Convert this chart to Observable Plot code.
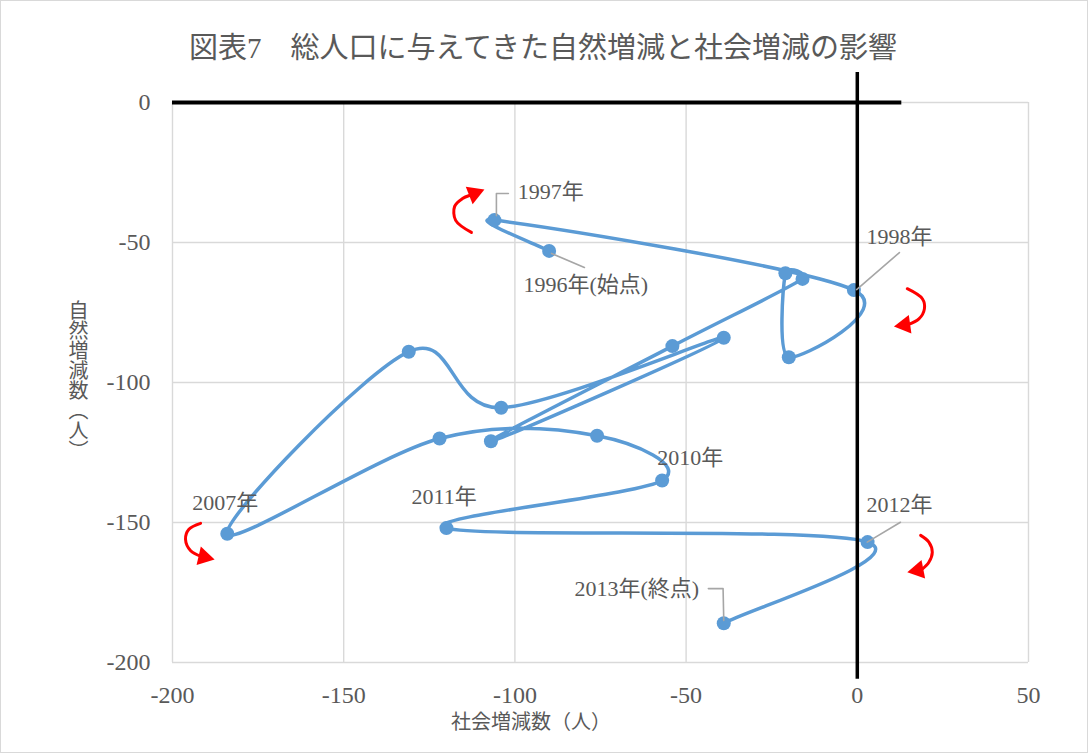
<!DOCTYPE html>
<html>
<head>
<meta charset="utf-8">
<script src="https://cdn.jsdelivr.net/npm/d3@7"></script>
<script src="https://cdn.jsdelivr.net/npm/@observablehq/plot@0.6"></script>
<style>
  body { margin: 0; background: #fff; }
  #wrap { position: relative; width: 1088px; height: 753px; overflow: hidden; background: #fff; }
  #frame { position: absolute; left: 0; top: 0; width: 1088px; height: 753px; box-sizing: border-box; border: 1px solid #d9d9d9; pointer-events: none; }
  .t { position: absolute; color: #595959; font-family: 'Liberation Serif', 'Noto Sans CJK JP', serif; white-space: nowrap; }
  #title { left: 0; width: 1086px; top: 30px; text-align: center; font-size: 29px; line-height: 36px; }
  #xlabel { left: 331px; width: 400px; top: 710px; text-align: center; font-size: 20px; line-height: 24px; }
  #ylabel { left: 65px; top: 300px; width: 24px; height: 160px; font-size: 20px; line-height: 24px; writing-mode: vertical-rl; text-align: center; }
</style>
</head>
<body>
<div id="wrap">
  <div id="chart"></div>
  <div class="t" id="title">図表7　総人口に与えてきた自然増減と社会増減の影響</div>
  <div class="t" id="xlabel">社会増減数（人）</div>
  <div class="t" id="ylabel">自然増減数（人）</div>
  <div id="frame"></div>
</div>
<script>
// ---- data ----
const years   = [1996, 1997, 1998, 1999, 2000, 2001, 2002, 2003, 2004, 2005, 2006, 2007, 2008, 2009, 2010, 2011, 2012, 2013];
const social  = [-90, -106, -1, -20, -21, -16, -54, -107, -39, -104, -131, -184, -122, -76, -57, -120, 3, -39];
const natural = [-53, -42, -67, -91, -61, -63, -87, -121, -84, -109, -89, -154, -120, -119, -135, -152, -157, -186];

const xTicks = [-200, -150, -100, -50, 0, 50];
const yTicks = [0, -50, -100, -150, -200];

// black reference lines (axis series)
const zeroHX = [-200, 13];
const zeroVY = [10.7, -206];

// data labels
const labelText = ["1997年", "1996年(始点)", "1998年", "2010年", "2011年", "2007年", "2012年", "2013年(終点)"];
const labelX = [-99.2, -97.5, 2.7, -58.4, -130.2, -194.2, 2.7, -82.6];
const labelY = [-32.1, -65, -47.9, -126.8, -140.7, -142.9, -143.9, -173.6];

// leader lines
const leaderId = [0, 0, 0, 1, 1, 2, 2, 3, 3, 4, 4, 4];
const leaderX = [-105.4, -105.4, -101.9, -89.3, -79.7, -0.2, 12.3, 2.9, 12.6, -43.5, -39.2, -39.0];
const leaderY = [-40.4, -32.5, -32.5, -53.9, -58.9, -66.8, -53.6, -157, -149.9, -173.6, -173.6, -185];

// red rotation arrows (arc points)
const arrowId = [0, 0, 0, 0, 0, 1, 1, 1, 1, 1, 2, 2, 2, 2, 2, 3, 3, 3, 3, 3];
const arrowX = [-112.7, -117.3, -117.6, -115.3, -113.3,
                14.6, 19.0, 19.6, 18.0, 14.8,
                -191.8, -195.2, -196.2, -194.7, -191.6,
                18.5, 20.9, 21.9, 20.9, 18.8];
const arrowY = [-46.4, -42.1, -37.1, -34.3, -33.2,
                -66.5, -70.1, -73.7, -77.3, -79.3,
                -150.3, -152.4, -156.0, -160.1, -162.1,
                -154.6, -157.0, -160.6, -164.2, -166.8];
const headBaseX = [-113.3, 14.8, -191.6, 18.8];
const headBaseY = [-33.2, -79.3, -162.1, -166.8];
const headTipX = [-108.9, 10.7, -187.7, 14.6];
const headTipY = [-31.1, -80.0, -163.2, -167.8];

// ---- layout ----
const W = 1088, H = 753, mL = 172, mR = 60, mT = 102, mB = 91;
const kx = (W - mL - mR) / 250, ky = (H - mT - mB) / 200;

const pts = years.map((yr, i) => ({year: yr, x: social[i], y: natural[i]}));
const labels = labelText.map((t, i) => ({text: t, x: labelX[i], y: labelY[i]}));
const leaders = leaderId.map((id, i) => ({id, x: leaderX[i], y: leaderY[i]}));
const arcs = arrowId.map((id, i) => ({id, x: arrowX[i], y: arrowY[i]}));

const headR = 7;
const tipDist = 2 * Math.sqrt(headR * headR * Math.PI / (3 * Math.sqrt(3)));
const heads = headTipX.map((tx, i) => {
  const dxp = (tx - headBaseX[i]) * kx;
  const dyp = -(headTipY[i] - headBaseY[i]) * ky;
  const len = Math.hypot(dxp, dyp);
  const ux = dxp / len, uy = dyp / len;
  const ang = Math.atan2(dyp, dxp) * 180 / Math.PI;
  return {
    x: tx - ux * tipDist / kx,
    y: headTipY[i] + uy * tipDist / ky,
    rotate: ang + 90
  };
});

// Spreadsheet-style smoothed line: cardinal Bezier whose control arms are
// limited to half of the segment length (avoids loops on short segments).
function smoothCurve(context) {
  let p = [];
  return {
    areaStart() {}, areaEnd() {},
    lineStart() { p = []; },
    point(x, y) { p.push([+x, +y]); },
    lineEnd() {
      const n = p.length;
      if (!n) return;
      context.moveTo(p[0][0], p[0][1]);
      if (n === 1) return;
      const T = p.map((_, i) => {
        const a = p[Math.max(0, i - 1)], b = p[Math.min(n - 1, i + 1)];
        return [(b[0] - a[0]) / 6, (b[1] - a[1]) / 6];
      });
      for (let i = 0; i < n - 1; i++) {
        const a = p[i], b = p[i + 1];
        const L = Math.hypot(b[0] - a[0], b[1] - a[1]);
        const t1 = Math.hypot(T[i][0], T[i][1]), t2 = Math.hypot(T[i + 1][0], T[i + 1][1]);
        const s1 = t1 > 0 ? Math.min(1, 0.5 * L / t1) : 1;
        const s2 = t2 > 0 ? Math.min(1, 0.5 * L / t2) : 1;
        context.bezierCurveTo(
          a[0] + T[i][0] * s1, a[1] + T[i][1] * s1,
          b[0] - T[i + 1][0] * s2, b[1] - T[i + 1][1] * s2,
          b[0], b[1]);
      }
    }
  };
}

const blue = "#5b9bd5";
const grey = "#595959";

const chart = Plot.plot({
  width: W, height: H,
  marginLeft: mL, marginRight: mR, marginTop: mT, marginBottom: mB,
  style: {fontFamily: "'Liberation Serif', 'Noto Sans CJK JP', serif", fontSize: "24px", color: grey, background: "transparent"},
  x: {domain: [-200, 50], axis: null},
  y: {domain: [-200, 0], axis: null},
  marks: [
    Plot.gridX(xTicks, {stroke: "#d9d9d9", strokeOpacity: 1, strokeWidth: 1.4}),
    Plot.gridY(yTicks, {stroke: "#d9d9d9", strokeOpacity: 1, strokeWidth: 1.4}),
    Plot.axisX(xTicks, {tickSize: 0, tickPadding: 23, tickFormat: d => String(d), fontSize: 24, fill: grey, label: null}),
    Plot.axisY(yTicks, {tickSize: 0, tickPadding: 22, tickFormat: d => String(d), fontSize: 24, fill: grey, label: null}),
    Plot.line(pts, {x: "x", y: "y", curve: smoothCurve, stroke: blue, strokeWidth: 3.5}),
    Plot.dot(pts, {x: "x", y: "y", r: 7, fill: blue}),
    Plot.ruleY([0], {x1: zeroHX[0], x2: zeroHX[1], stroke: "black", strokeWidth: 4}),
    Plot.ruleX([0], {y1: zeroVY[0], y2: zeroVY[1], stroke: "black", strokeWidth: 3.5}),
    Plot.line(leaders, {x: "x", y: "y", z: "id", stroke: "#a6a6a6", strokeWidth: 1.6}),
    Plot.text(labels, {x: "x", y: "y", text: "text", textAnchor: "start", lineAnchor: "middle", fontSize: 22, fill: grey}),
    Plot.line(arcs, {x: "x", y: "y", z: "id", curve: "catmull-rom", stroke: "#ff0000", strokeWidth: 3}),
    Plot.dot(heads, {x: "x", y: "y", rotate: "rotate", symbol: "triangle", r: headR, fill: "#ff0000"})
  ]
});
document.getElementById("chart").appendChild(chart);
</script>
</body>
</html>
